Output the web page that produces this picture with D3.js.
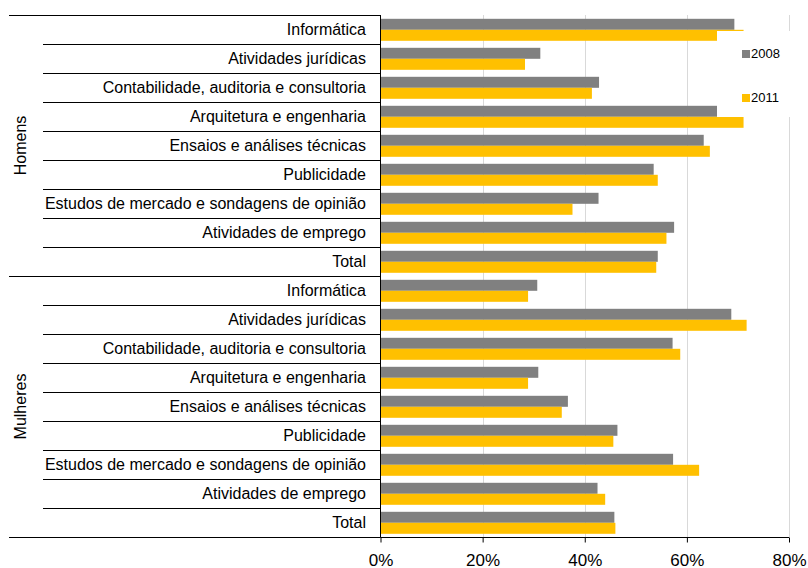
<!DOCTYPE html>
<html lang="pt">
<head>
<meta charset="utf-8">
<title>Homens e Mulheres por setor</title>
<script src="https://d3js.org/d3.v7.min.js"></script>
<style>
  body { margin: 0; background: #fff; }
  text { font-family: "Liberation Sans", Arial, sans-serif; fill: #000; }
</style>
</head>
<body>
<div id="viz"></div>
<script>
// data
var groups = ["Homens", "Mulheres"];
var categories = [
  "Informática",
  "Atividades jurídicas",
  "Contabilidade, auditoria e consultoria",
  "Arquitetura e engenharia",
  "Ensaios e análises técnicas",
  "Publicidade",
  "Estudos de mercado e sondagens de opinião",
  "Atividades de emprego",
  "Total"
];
var years = ["2008", "2011"];
var homens2008 = [69.3, 31.3, 42.8, 66.0, 63.3, 53.5, 42.7, 57.5, 54.3];
var homens2011 = [71.1, 28.3, 41.4, 71.1, 64.5, 54.3, 37.6, 56.0, 54.0];
var mulheres2008 = [30.7, 68.7, 57.2, 30.9, 36.7, 46.4, 57.3, 42.5, 45.8];
var mulheres2011 = [28.9, 71.7, 58.7, 28.9, 35.5, 45.6, 62.4, 44.0, 46.0];
var xTicks = [0, 20, 40, 60, 80];
var colors = {"2008": "#808080", "2011": "#ffc000"};

var seriesByGroup = {
  "Homens": {"2008": homens2008, "2011": homens2011},
  "Mulheres": {"2008": mulheres2008, "2011": mulheres2011}
};

// rows, one per group + category
var rows = [];
groups.forEach(function(g) {
  categories.forEach(function(c, i) {
    rows.push({key: g + "|" + i, group: g, cat: c, idx: i});
  });
});

var W = 808, H = 568;
var plotLeft = 380.5, plotRight = 789, plotTop = 15, plotBottom = 537;

var svg = d3.select("#viz").append("svg")
  .attr("width", W)
  .attr("height", H);

var x = d3.scaleLinear().domain([0, 80]).range([plotLeft, plotRight]);
var y = d3.scaleBand().domain(rows.map(function(d) { return d.key; })).range([plotTop, plotBottom]);
var bw = y.bandwidth();
var ySub = d3.scaleBand().domain(years).range([3.8, bw - 3.2]);

// gridlines
svg.append("g")
  .selectAll("line")
  .data(xTicks.slice(1))
  .join("line")
  .attr("x1", function(d) { return Math.round(x(d)) + 0.5; })
  .attr("x2", function(d) { return Math.round(x(d)) + 0.5; })
  .attr("y1", plotTop)
  .attr("y2", plotBottom)
  .attr("stroke", "#d9d9d9")
  .attr("stroke-width", 1);

// bars
var rowG = svg.append("g").selectAll("g")
  .data(rows)
  .join("g")
  .attr("transform", function(d) { return "translate(0," + y(d.key) + ")"; });

rowG.selectAll("rect")
  .data(function(d) {
    return years.map(function(yr) {
      return {year: yr, value: seriesByGroup[d.group][yr][d.idx]};
    });
  })
  .join("rect")
  .attr("x", x(0))
  .attr("y", function(d) { return ySub(d.year); })
  .attr("height", ySub.bandwidth())
  .attr("width", function(d) { return x(d.value) - x(0); })
  .attr("fill", function(d) { return colors[d.year]; });

// category separators on the left
var bounds = d3.range(rows.length + 1).map(function(i) { return plotTop + i * bw; });
svg.append("g")
  .selectAll("line")
  .data(bounds)
  .join("line")
  .attr("x1", function(d, i) { return (i % categories.length === 0) ? 9 : 43; })
  .attr("x2", plotLeft)
  .attr("y1", function(d) { return Math.round(d) + 0.5; })
  .attr("y2", function(d) { return Math.round(d) + 0.5; })
  .attr("stroke", "#000")
  .attr("stroke-width", 1);

// category labels
svg.append("g")
  .selectAll("text")
  .data(rows)
  .join("text")
  .attr("x", 366)
  .attr("y", function(d) { return y(d.key) + bw / 2; })
  .attr("dy", "0.36em")
  .attr("text-anchor", "end")
  .attr("font-size", "16px")
  .text(function(d) { return d.cat; });

// group labels (rotated)
groups.forEach(function(g, gi) {
  var y0 = bounds[gi * categories.length], y1 = bounds[(gi + 1) * categories.length];
  svg.append("text")
    .attr("transform", "translate(26," + ((y0 + y1) / 2) + ") rotate(-90)")
    .attr("text-anchor", "middle")
    .attr("font-size", "16px")
    .text(g);
});

// axes lines
svg.append("line")
  .attr("x1", plotLeft).attr("x2", plotLeft)
  .attr("y1", plotTop).attr("y2", plotBottom + 0.5)
  .attr("stroke", "#000");

var xAxis = svg.append("g")
  .attr("transform", "translate(0," + (plotBottom + 0.5) + ")")
  .call(d3.axisBottom(x).tickValues(xTicks).tickSize(5).tickFormat(function(d) { return d + "%"; }));
xAxis.select(".domain").attr("d", "M" + plotLeft + ",0H" + plotRight);
xAxis.selectAll(".tick line").attr("stroke", "#000");
xAxis.selectAll(".tick text")
  .attr("font-family", "'Liberation Sans', Arial, sans-serif")
  .attr("font-size", "17px")
  .attr("fill", "#000")
  .attr("y", 0)
  .attr("dy", "28px");

// legend box (sits over the bars like the original)
var legend = svg.append("g");
legend.append("rect")
  .attr("x", 717).attr("y", 31)
  .attr("width", 82).attr("height", 86)
  .attr("fill", "#fff");

legend.selectAll("g")
  .data(years)
  .join("g")
  .attr("transform", function(d, i) { return "translate(742," + (50 + i * 44) + ")"; })
  .each(function(d) {
    var g = d3.select(this);
    g.append("rect").attr("width", 8).attr("height", 8).attr("fill", colors[d]);
    g.append("text").attr("x", 9).attr("y", 8).attr("font-size", "13px").text(d);
  });
</script>
</body>
</html>
